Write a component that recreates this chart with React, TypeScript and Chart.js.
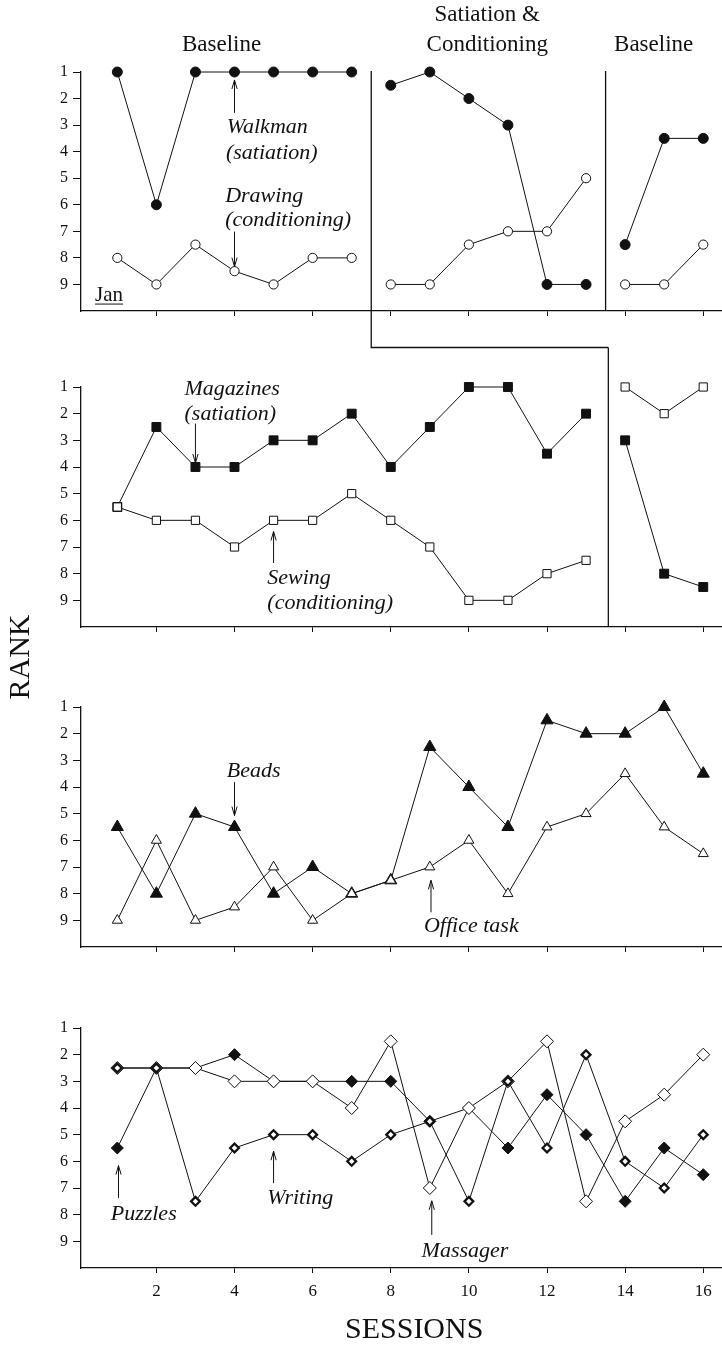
import { useEffect, useRef } from 'react';
import { Chart, registerables } from 'chart.js';

Chart.register(...registerables);

// ---------- data ----------
const SESSIONS = [1, 2, 3, 4, 5, 6, 7, 8, 9, 10, 11, 12, 13, 14, 15, 16];
const X_TICKS = [2, 4, 6, 8, 10, 12, 14, 16];
const RANK_TICKS = [1, 2, 3, 4, 5, 6, 7, 8, 9];

// Jan
const WALKMAN = [1, 6, 1, 1, 1, 1, 1, 1.5, 1, 2, 3, 9, 9, 7.5, 3.5, 3.5];
const DRAWING = [8, 9, 7.5, 8.5, 9, 8, 8, 9, 9, 7.5, 7, 7, 5, 9, 9, 7.5];
// panel 2
const MAGAZINES = [5.5, 2.5, 4, 4, 3, 3, 2, 4, 2.5, 1, 1, 3.5, 2, 3, 8, 8.5];
const SEWING = [5.5, 6, 6, 7, 6, 6, 5, 6, 7, 9, 9, 8, 7.5, 1, 2, 1];
// panel 3
const BEADS = [5.5, 8, 5, 5.5, 8, 7, 8, 7.5, 2.5, 4, 5.5, 1.5, 2, 2, 1, 3.5];
const OFFICE_TASK = [9, 6, 9, 8.5, 7, 9, 8, 7.5, 7, 6, 8, 5.5, 5, 3.5, 5.5, 6.5];
// panel 4
const PUZZLES = [5.5, 2.5, 2.5, 2, 3, 3, 3, 3, 4.5, 4, 5.5, 3.5, 5, 7.5, 5.5, 6.5];
const WRITING = [2.5, 2.5, 7.5, 5.5, 5, 5, 6, 5, 4.5, 7.5, 3, 5.5, 2, 6, 7, 5];
const MASSAGER = [2.5, 2.5, 2.5, 3, 3, 3, 4, 1.5, 7, 4, 3, 1.5, 7.5, 4.5, 3.5, 2];

// phase changes (session values)
const PHASE_A = 7.5;
const PHASE_B_TOP = 13.5;
const PHASE_B_MID = 13.57;

// ---------- layout ----------
const W = 722;
const H = 1347;
const PLOT_LEFT = 81;
const PANEL_TOP = [72, 387, 707, 1028];
const PANEL_BOTTOM = [311, 627, 947, 1268];
const STEP_Y = 347.5;
const INK = '#111';
const SERIF = '"Liberation Serif", "Times New Roman", serif';
const TITLE_FONT = `23px ${SERIF}`;
const ITAL_FONT = `italic 22px ${SERIF}`;
const BIG_FONT = `30px ${SERIF}`;

type Txt = { text: string; x: number; y: number; font: string; align?: CanvasTextAlign; underline?: boolean; rotate?: boolean };
type Arrow = { x: number; from: number; to: number };

type SeriesDef = { label: string; values: number[]; shape: string; r: number; fill: string; bw: number };

const filledCircle = { shape: 'circle', r: 5, fill: INK, bw: 1 };
const openCircle = { shape: 'circle', r: 4.6, fill: '#fff', bw: 1 };
const filledSquare = { shape: 'rect', r: 6.3, fill: INK, bw: 1 };
const openSquare = { shape: 'rect', r: 5.8, fill: '#fff', bw: 1 };
const filledTri = { shape: 'triangle', r: 7, fill: INK, bw: 1 };
const openTri = { shape: 'triangle', r: 5.8, fill: '#fff', bw: 1 };
const filledDiamond = { shape: 'rectRot', r: 6, fill: INK, bw: 1 };
const openDiamond = { shape: 'rectRot', r: 6.5, fill: '#fff', bw: 1 };
const thickDiamond = { shape: 'rectRot', r: 4.4, fill: '#fff', bw: 2.3 };

type PanelDef = {
  series: SeriesDef[];
  breaks: number[];
  xLabels: boolean;
  texts: Txt[];
  arrows: Arrow[];
  phase: (chart: any, ctx: CanvasRenderingContext2D) => void;
};

const PANELS: PanelDef[] = [
  {
    series: [
      { label: 'Drawing', values: DRAWING, ...openCircle },
      { label: 'Walkman', values: WALKMAN, ...filledCircle },
    ],
    breaks: [PHASE_A, PHASE_B_TOP],
    xLabels: false,
    texts: [
      { text: 'Baseline', x: 3.67, y: -0.02, font: TITLE_FONT, align: 'center' },
      { text: 'Satiation &', x: 10.47, y: -1.15, font: TITLE_FONT, align: 'center' },
      { text: 'Conditioning', x: 10.47, y: -0.02, font: TITLE_FONT, align: 'center' },
      { text: 'Baseline', x: 14.73, y: -0.02, font: TITLE_FONT, align: 'center' },
      { text: 'Walkman', x: 3.8, y: 3.08, font: ITAL_FONT },
      { text: '(satiation)', x: 3.78, y: 4.06, font: ITAL_FONT },
      { text: 'Drawing', x: 3.76, y: 5.67, font: ITAL_FONT },
      { text: '(conditioning)', x: 3.76, y: 6.57, font: ITAL_FONT },
      { text: 'Jan', x: 0.43, y: 9.4, font: `21px ${SERIF}`, underline: true },
    ],
    arrows: [
      { x: 4, from: 2.54, to: 1.3 },
      { x: 4, from: 7.01, to: 8.33 },
    ],
    phase: (chart, ctx) => {
      const xs = chart.scales.x;
      const top = chart.chartArea.top - 1;
      const a = xs.getPixelForValue(PHASE_A);
      const b = xs.getPixelForValue(PHASE_B_TOP);
      const m = xs.getPixelForValue(PHASE_B_MID);
      ctx.beginPath();
      ctx.moveTo(a, top);
      ctx.lineTo(a, STEP_Y);
      ctx.lineTo(m, STEP_Y);
      ctx.moveTo(b, top);
      ctx.lineTo(b, chart.chartArea.bottom);
      ctx.stroke();
    },
  },
  {
    series: [
      { label: 'Sewing', values: SEWING, ...openSquare },
      { label: 'Magazines', values: MAGAZINES, ...filledSquare },
    ],
    breaks: [PHASE_B_MID],
    xLabels: false,
    texts: [
      { text: 'Magazines', x: 2.72, y: 1.07, font: ITAL_FONT },
      { text: '(satiation)', x: 2.72, y: 2.03, font: ITAL_FONT },
      { text: 'Sewing', x: 4.84, y: 8.17, font: ITAL_FONT },
      { text: '(conditioning)', x: 4.84, y: 9.1, font: ITAL_FONT },
    ],
    arrows: [
      { x: 3, from: 2.37, to: 3.85 },
      { x: 5, from: 7.6, to: 6.42 },
    ],
    phase: (chart, ctx) => {
      const m = chart.scales.x.getPixelForValue(PHASE_B_MID);
      ctx.beginPath();
      ctx.moveTo(m, STEP_Y);
      ctx.lineTo(m, chart.chartArea.bottom);
      ctx.stroke();
    },
  },
  {
    series: [
      { label: 'Office task', values: OFFICE_TASK, ...openTri },
      { label: 'Beads', values: BEADS, ...filledTri },
    ],
    breaks: [],
    xLabels: false,
    texts: [
      { text: 'Beads', x: 3.8, y: 3.4, font: ITAL_FONT },
      { text: 'Office task', x: 8.85, y: 9.21, font: ITAL_FONT },
      { text: 'RANK', x: -1.47, y: -0.875, font: BIG_FONT, align: 'center', rotate: true },
    ],
    arrows: [
      { x: 4, from: 3.82, to: 5.07 },
      { x: 9.03, from: 8.7, to: 7.5 },
    ],
    phase: () => {},
  },
  {
    series: [
      { label: 'Writing', values: WRITING, ...thickDiamond },
      { label: 'Massager', values: MASSAGER, ...openDiamond },
      { label: 'Puzzles', values: PUZZLES, ...filledDiamond },
    ],
    breaks: [],
    xLabels: true,
    texts: [
      { text: 'Puzzles', x: 0.83, y: 7.98, font: ITAL_FONT },
      { text: 'Writing', x: 4.84, y: 7.37, font: ITAL_FONT },
      { text: 'Massager', x: 8.79, y: 9.36, font: ITAL_FONT },
      { text: 'SESSIONS', x: 8.6, y: 12.32, font: BIG_FONT, align: 'center' },
    ],
    arrows: [
      { x: 1.03, from: 7.37, to: 6.16 },
      { x: 5, from: 6.82, to: 5.62 },
      { x: 9.05, from: 8.76, to: 7.48 },
    ],
    phase: () => {},
  },
];

function makeOverlay(def: PanelDef) {
  return {
    id: 'overlay',
    afterDraw(chart: any) {
      const ctx: CanvasRenderingContext2D = chart.ctx;
      const xs = chart.scales.x;
      const ys = chart.scales.y;
      const px = (v: number) => xs.getPixelForValue(v);
      const py = (v: number) => ys.getPixelForValue(v);
      ctx.save();
      ctx.strokeStyle = INK;
      ctx.fillStyle = INK;
      ctx.lineWidth = 1.3;
      def.phase(chart, ctx);
      // arrows
      ctx.lineWidth = 1;
      for (const a of def.arrows) {
        const x = px(a.x);
        const y0 = py(a.from);
        const y1 = py(a.to);
        const dir = y1 > y0 ? 1 : -1;
        ctx.beginPath();
        ctx.moveTo(x, y0);
        ctx.lineTo(x, y1);
        ctx.moveTo(x - 2.6, y1 - dir * 9);
        ctx.lineTo(x, y1);
        ctx.lineTo(x + 2.6, y1 - dir * 9);
        ctx.stroke();
      }
      // texts
      for (const t of def.texts) {
        ctx.font = t.font;
        ctx.textAlign = t.align || 'left';
        ctx.textBaseline = 'middle';
        const x = px(t.x);
        const y = py(t.y);
        if (t.rotate) {
          ctx.save();
          ctx.translate(x, y);
          ctx.rotate(-Math.PI / 2);
          ctx.fillText(t.text, 0, 0);
          ctx.restore();
        } else {
          ctx.fillText(t.text, x, y);
        }
        if (t.underline) {
          const w = ctx.measureText(t.text).width;
          ctx.beginPath();
          ctx.moveTo(x, y + 9);
          ctx.lineTo(x + w, y + 9);
          ctx.stroke();
        }
      }
      ctx.restore();
    },
  };
}

function Panel({ def, index }: { def: PanelDef; index: number }) {
  const ref = useRef<HTMLCanvasElement | null>(null);
  useEffect(() => {
    if (!ref.current) return;
    const xh = def.xLabels ? 40 : 10;
    const isBreak = (i0: number, i1: number) =>
      def.breaks.some((b) => SESSIONS[i0] < b && SESSIONS[i1] > b);
    const chart = new Chart(ref.current, {
      type: 'line',
      data: {
        datasets: def.series.map((s) => ({
          label: s.label,
          data: SESSIONS.map((x, i) => ({ x, y: s.values[i] })),
          borderColor: INK,
          borderWidth: 1,
          tension: 0,
          fill: false,
          clip: false,
          pointStyle: s.shape as any,
          pointRadius: s.r,
          pointHoverRadius: s.r,
          pointBackgroundColor: s.fill,
          pointBorderColor: INK,
          pointBorderWidth: s.bw,
          pointHoverBorderWidth: s.bw,
          segment: {
            borderColor: (c: any) => (isBreak(c.p0DataIndex, c.p1DataIndex) ? 'rgba(0,0,0,0)' : undefined),
          },
        })),
      },
      options: {
        animation: false,
        responsive: false,
        maintainAspectRatio: false,
        devicePixelRatio: 1,
        events: [],
        layout: {
          autoPadding: false,
          padding: { left: 0, right: 0, top: PANEL_TOP[index], bottom: H - PANEL_BOTTOM[index] - xh },
        },
        plugins: { legend: { display: false }, tooltip: { enabled: false }, title: { display: false } },
        scales: {
          x: {
            type: 'linear',
            min: 0.07,
            max: 16.48,
            afterBuildTicks: (scale: any) => {
              scale.ticks = X_TICKS.map((v) => ({ value: v }));
            },
            afterFit: (scale: any) => {
              scale.height = xh;
              scale.paddingLeft = 0;
              scale.paddingRight = 0;
            },
            grid: { display: true, drawOnChartArea: false, drawTicks: true, tickLength: 5, color: INK, lineWidth: 1 },
            border: { display: true, color: INK, width: 1.3 },
            ticks: {
              autoSkip: false,
              maxRotation: 0,
              padding: 8,
              color: INK,
              font: { family: SERIF, size: 17 },
              callback: (v: any) => (def.xLabels ? String(v) : ''),
            },
          },
          y: {
            type: 'linear',
            reverse: true,
            min: 1,
            max: 10,
            afterBuildTicks: (scale: any) => {
              scale.ticks = RANK_TICKS.map((v) => ({ value: v }));
            },
            afterFit: (scale: any) => {
              scale.width = PLOT_LEFT;
              scale.paddingTop = 0;
              scale.paddingBottom = 0;
            },
            grid: { display: true, drawOnChartArea: false, drawTicks: true, tickLength: 8, color: INK, lineWidth: 1 },
            border: { display: true, color: INK, width: 1.3 },
            ticks: {
              autoSkip: false,
              padding: 5,
              color: INK,
              font: { family: SERIF, size: 16 },
              callback: (v: any) => String(v),
            },
          },
        },
      },
      plugins: [makeOverlay(def)],
    } as any);
    return () => chart.destroy();
  }, [def, index]);
  return (
    <canvas
      ref={ref}
      width={W}
      height={H}
      style={{ position: 'absolute', left: 0, top: 0, width: W, height: H }}
    />
  );
}

export default function App() {
  return (
    <div style={{ position: 'absolute', left: 0, top: 0, width: W, height: H, background: '#fff', overflow: 'hidden' }}>
      {PANELS.map((p, i) => (
        <Panel key={i} def={p} index={i} />
      ))}
    </div>
  );
}
